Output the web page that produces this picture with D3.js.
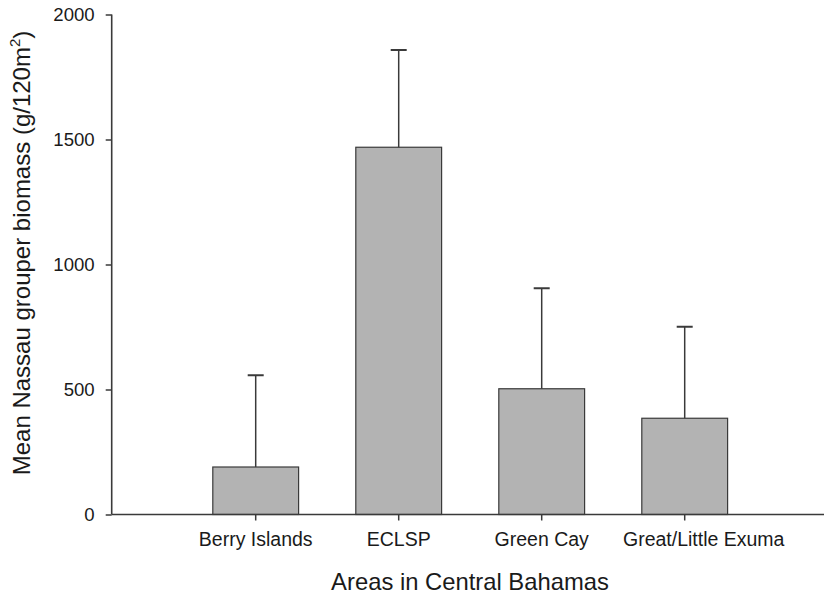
<!DOCTYPE html>
<html>
<head>
<meta charset="utf-8">
<script src="https://cdn.jsdelivr.net/npm/d3@7"></script>
<style>
  body { margin: 0; background: #fff; }
  text { font-family: "Liberation Sans", Arial, sans-serif; fill: #1a1a1a; }
</style>
</head>
<body>
<svg id="chart" width="824" height="599"></svg>
<script>
const categories = ["Berry Islands", "ECLSP", "Green Cay", "Great/Little Exuma"];
const means = [190, 1469, 503, 385];
const errors = [367, 389, 402, 366];
const yTicks = [0, 500, 1000, 1500, 2000];
const xTitle = "Areas in Central Bahamas";
const yTitle = "Mean Nassau grouper biomass (g/120m";

const svg = d3.select("#chart");
const x0 = 111.7, xEnd = 824, yTop = 14.5, yBot = 514.5;

const y = d3.scaleLinear().domain([0, 2000]).range([yBot, yTop]);
const x = d3.scaleBand().domain(categories).range([184.2, 756.2]).paddingInner(0.4).paddingOuter(0.2);

const data = categories.map((c, i) => ({ c, m: means[i], e: errors[i] }));

// bars
svg.append("g").selectAll("rect").data(data).join("rect")
  .attr("x", d => x(d.c)).attr("width", x.bandwidth())
  .attr("y", d => y(d.m)).attr("height", d => yBot - y(d.m))
  .attr("fill", "#b3b3b3").attr("stroke", "#3a3a3a").attr("stroke-width", 1.2);

// error bars
const eb = svg.append("g").attr("stroke", "#3a3a3a");
eb.selectAll("line.v").data(data).join("line").attr("class", "v")
  .attr("x1", d => x(d.c) + x.bandwidth() / 2).attr("x2", d => x(d.c) + x.bandwidth() / 2)
  .attr("y1", d => y(d.m)).attr("y2", d => y(d.m + d.e)).attr("stroke-width", 1.5);
eb.selectAll("line.cap").data(data).join("line").attr("class", "cap")
  .attr("x1", d => x(d.c) + x.bandwidth() / 2 - 8).attr("x2", d => x(d.c) + x.bandwidth() / 2 + 8)
  .attr("y1", d => y(d.m + d.e)).attr("y2", d => y(d.m + d.e)).attr("stroke-width", 2);

// y axis
const yAxis = svg.append("g").attr("transform", `translate(${x0},0)`)
  .call(d3.axisLeft(y).tickValues(yTicks).tickSize(6).tickPadding(11).tickFormat(d3.format("d")));
yAxis.select(".domain").remove();
yAxis.selectAll(".tick line").attr("stroke", "#3a3a3a").attr("stroke-width", 1.5);
yAxis.selectAll(".tick text").attr("font-size", "18.6px").attr("fill", "#1a1a1a")
  .attr("font-family", "'Liberation Sans', Arial, sans-serif");
svg.append("line").attr("x1", x0).attr("x2", x0).attr("y1", y(2000)).attr("y2", yBot)
  .attr("stroke", "#3a3a3a").attr("stroke-width", 1.6);

// x axis
const xAxis = svg.append("g").attr("transform", `translate(0,${yBot})`)
  .call(d3.axisBottom(x).tickSize(6).tickPadding(12));
xAxis.select(".domain").remove();
xAxis.selectAll(".tick line").attr("stroke", "#3a3a3a").attr("stroke-width", 1.5);
xAxis.selectAll(".tick text").attr("font-size", "19.5px").attr("fill", "#1a1a1a")
  .attr("font-family", "'Liberation Sans', Arial, sans-serif")
  .attr("dx", (d, i) => i === categories.length - 1 ? 19 : 0);
svg.append("line").attr("x1", x0).attr("x2", xEnd).attr("y1", yBot).attr("y2", yBot)
  .attr("stroke", "#3a3a3a").attr("stroke-width", 1.6);

// axis titles
svg.append("text").attr("x", 470).attr("y", 590).attr("text-anchor", "middle")
  .attr("font-size", "23.8px").text(xTitle);

const yt = svg.append("text").attr("transform", "translate(30,253) rotate(-90)")
  .attr("text-anchor", "middle").attr("font-size", "24px");
yt.append("tspan").text(yTitle);
yt.append("tspan").attr("font-size", "15px").attr("dy", "-10").text("2");
yt.append("tspan").attr("dy", "10").text(")");
</script>
</body>
</html>
